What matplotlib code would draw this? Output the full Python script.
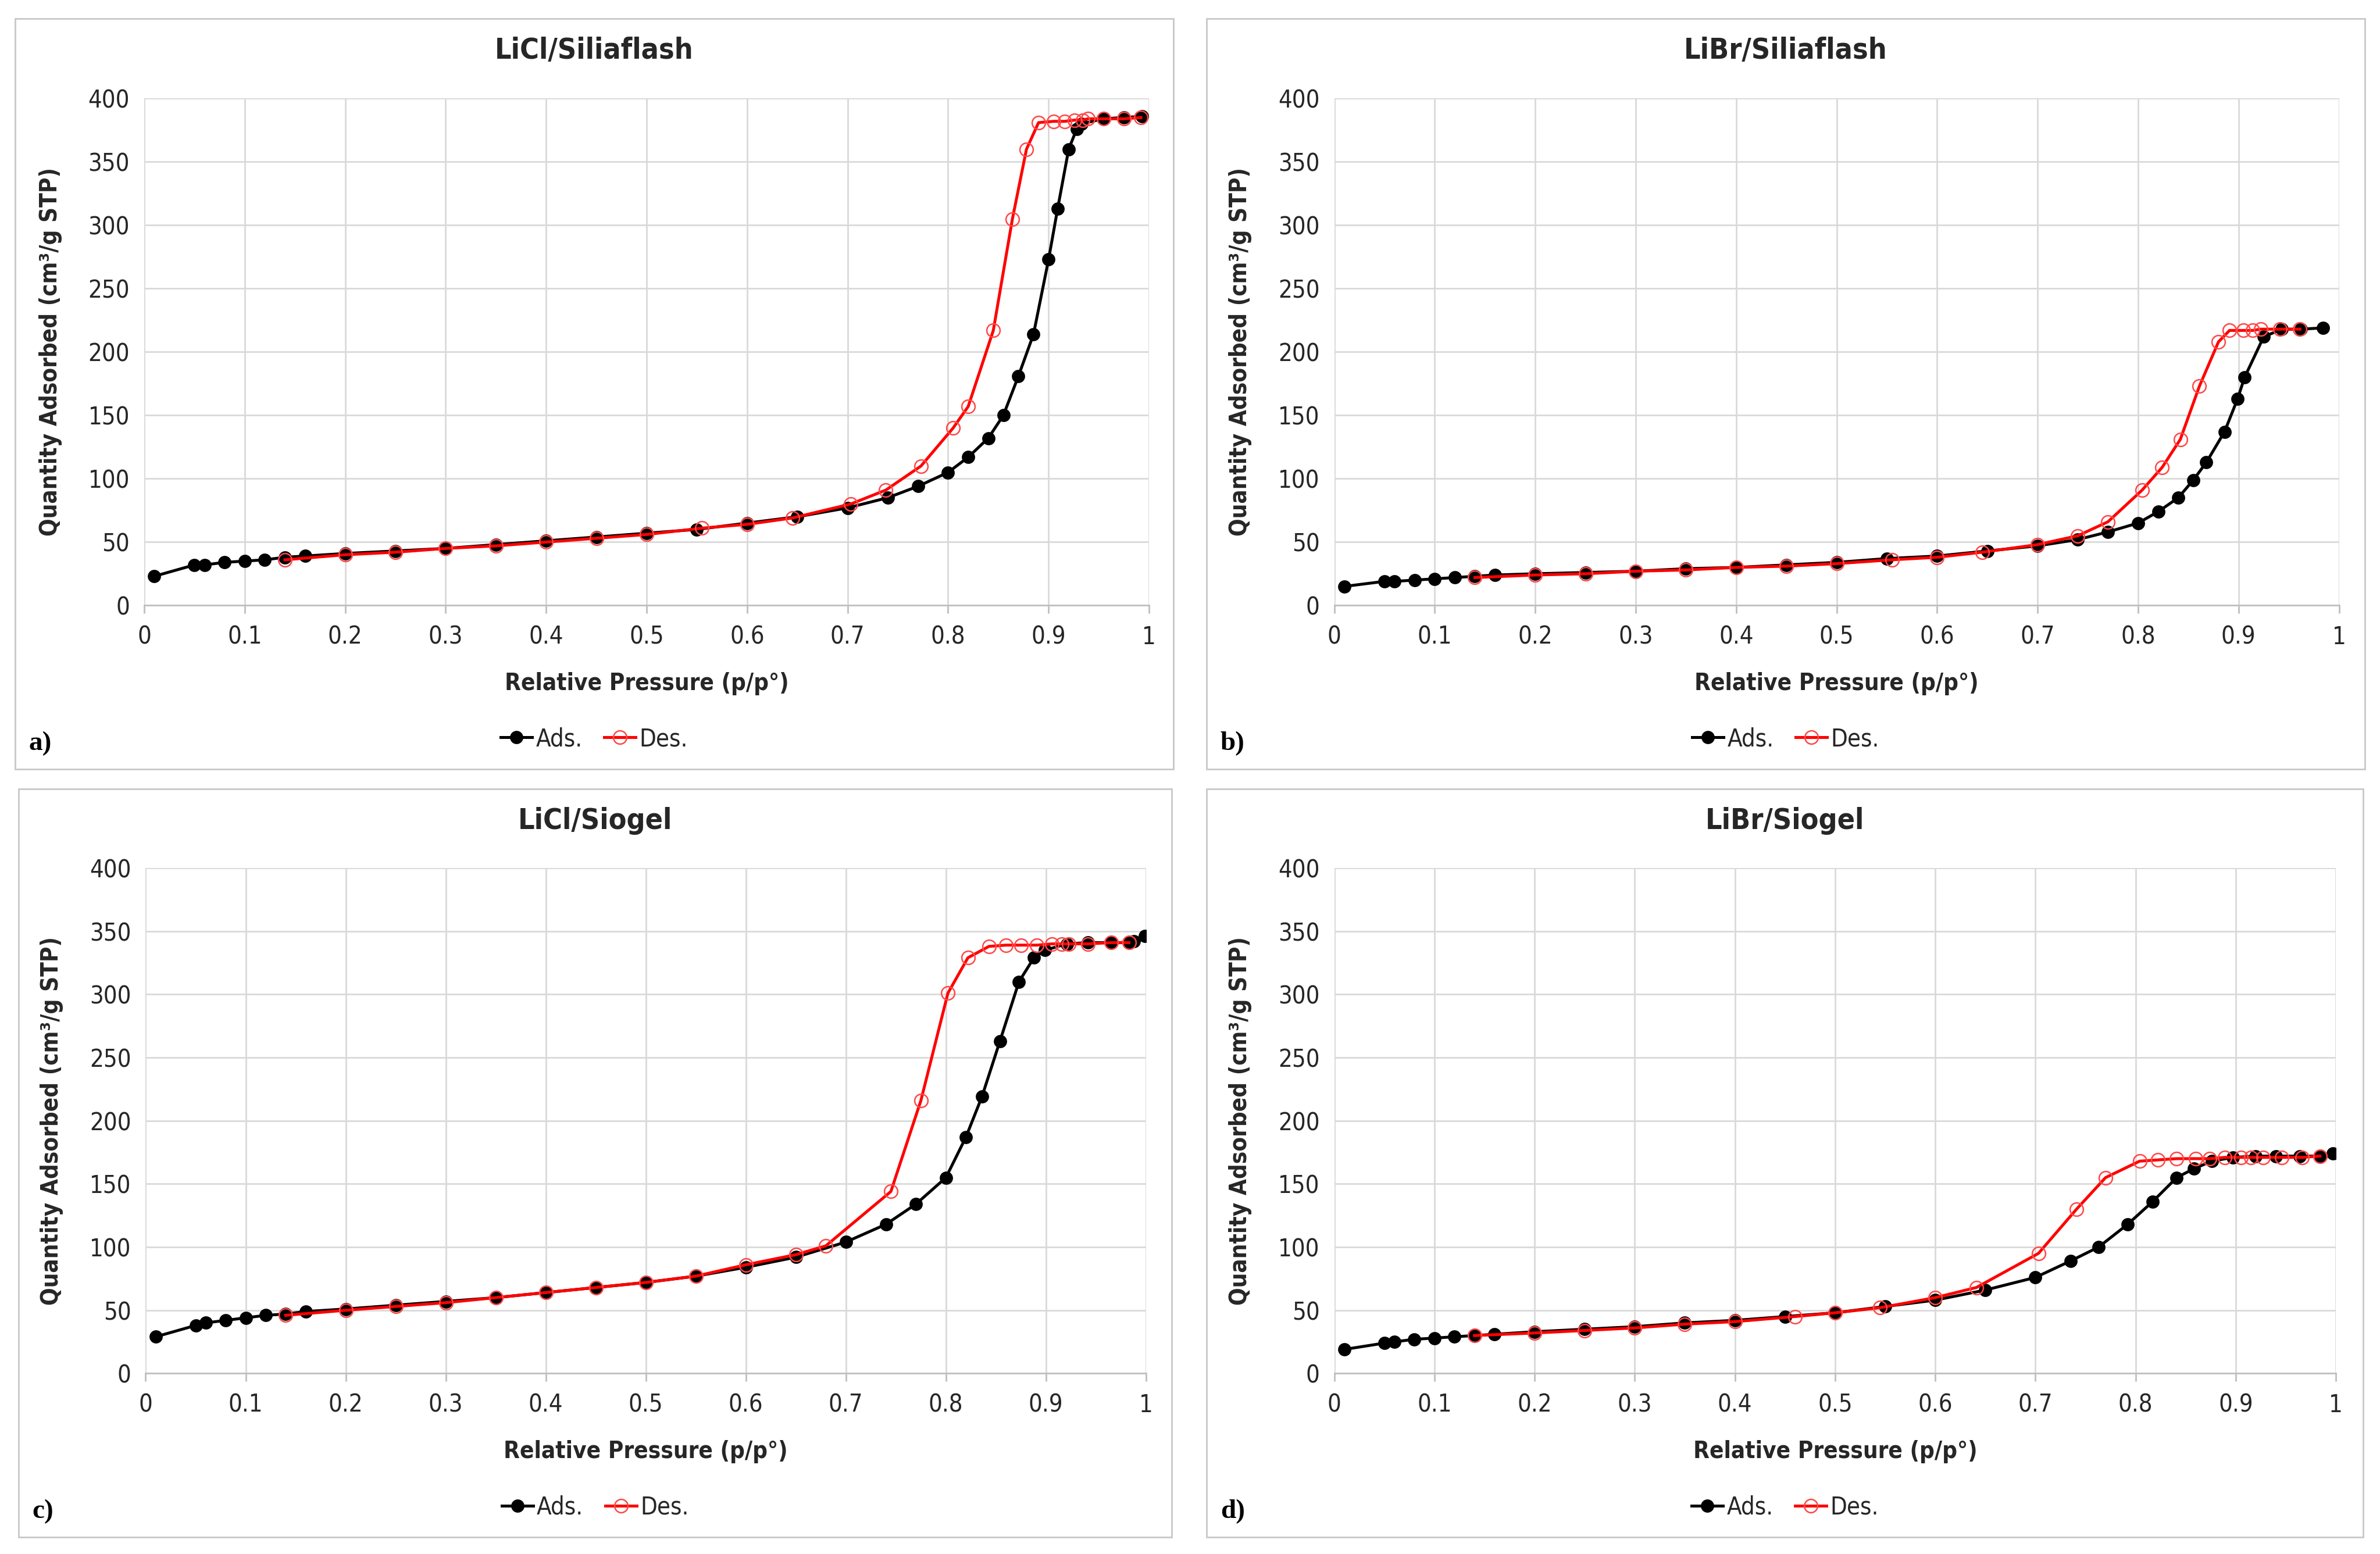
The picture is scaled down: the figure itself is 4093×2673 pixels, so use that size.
import matplotlib
matplotlib.use("Agg")
import matplotlib.pyplot as plt
from matplotlib.patches import Rectangle
from matplotlib.lines import Line2D

plt.rcParams['font.family'] = ['DejaVu Sans']
plt.rcParams['font.stretch'] = 'condensed'

# a) LiCl/Siliaflash
a_ads_x = [0.01, 0.05, 0.06, 0.08, 0.10, 0.12, 0.14, 0.16, 0.20, 0.25, 0.30, 0.35, 0.40, 0.45, 0.50, 0.55,
           0.60, 0.65, 0.70, 0.74, 0.77, 0.80, 0.82, 0.84, 0.855, 0.87, 0.885, 0.90, 0.909, 0.92, 0.928,
           0.933, 0.954, 0.975, 0.993]
a_ads_y = [23, 32, 32, 34, 35, 36, 38, 39, 41, 43, 45, 48, 51, 54, 57, 60,
           65, 70, 77, 85, 94, 105, 117, 132, 150, 181, 214, 273, 313, 360, 376,
           380, 384, 385, 386]
a_des_x = [0.14, 0.20, 0.25, 0.30, 0.35, 0.40, 0.45, 0.50, 0.555, 0.60, 0.645, 0.703, 0.738, 0.773, 0.805,
           0.82, 0.845, 0.864, 0.878, 0.89, 0.905, 0.916, 0.926, 0.934, 0.939, 0.955, 0.975, 0.992]
a_des_y = [36, 40, 42, 45, 47, 50, 53, 56, 61, 64, 69, 80, 91, 110, 140,
           157, 217, 305, 360, 381, 382, 382, 383, 383, 384, 384, 384, 385]

# b) LiBr/Siliaflash
b_ads_x = [0.01, 0.05, 0.06, 0.08, 0.10, 0.12, 0.14, 0.16, 0.20, 0.25, 0.30, 0.35, 0.40, 0.45, 0.50, 0.55,
           0.60, 0.65, 0.70, 0.74, 0.77, 0.80, 0.82, 0.84, 0.855, 0.868, 0.886, 0.899, 0.906, 0.925, 0.943,
           0.962, 0.984]
b_ads_y = [15, 19, 19, 20, 21, 22, 23, 24, 25, 26, 27, 29, 30, 32, 34, 37,
           39, 43, 47, 52, 58, 65, 74, 85, 99, 113, 137, 163, 180, 212, 218,
           218, 219]
b_des_x = [0.14, 0.20, 0.25, 0.30, 0.35, 0.40, 0.45, 0.50, 0.555, 0.60, 0.645, 0.70, 0.74, 0.77, 0.804,
           0.824, 0.842, 0.861, 0.88, 0.891, 0.905, 0.914, 0.922, 0.941, 0.961]
b_des_y = [22, 24, 25, 27, 28, 30, 31, 33, 36, 38, 42, 48, 55, 66, 91,
           109, 131, 173, 208, 217, 217, 217, 218, 218, 218]

# c) LiCl/Siogel
c_ads_x = [0.01, 0.05, 0.06, 0.08, 0.10, 0.12, 0.14, 0.16, 0.20, 0.25, 0.30, 0.35, 0.40, 0.45, 0.50, 0.55,
           0.60, 0.65, 0.70, 0.74, 0.77, 0.80, 0.82, 0.836, 0.854, 0.873, 0.888, 0.899, 0.921, 0.942, 0.965,
           0.983, 0.988, 0.999]
c_ads_y = [29, 38, 40, 42, 44, 46, 47, 49, 51, 54, 57, 60, 64, 68, 72, 77,
           84, 92, 104, 118, 134, 155, 187, 219, 263, 310, 329, 335, 340, 341, 341,
           341, 342, 346]
c_des_x = [0.14, 0.20, 0.25, 0.30, 0.35, 0.40, 0.45, 0.50, 0.55, 0.60, 0.65, 0.68, 0.745, 0.775, 0.802,
           0.822, 0.843, 0.86, 0.875, 0.891, 0.906, 0.916, 0.923, 0.942, 0.965, 0.983]
c_des_y = [46, 50, 53, 56, 60, 64, 68, 72, 77, 86, 94, 101, 144, 216, 301,
           329, 338, 339, 339, 339, 340, 340, 340, 340, 341, 341]

# d) LiBr/Siogel
d_ads_x = [0.01, 0.05, 0.06, 0.08, 0.10, 0.12, 0.14, 0.16, 0.20, 0.25, 0.30, 0.35, 0.40, 0.45, 0.50, 0.55,
           0.60, 0.65, 0.70, 0.735, 0.763, 0.792, 0.817, 0.841, 0.858, 0.876, 0.897, 0.92, 0.94, 0.964,
           0.984, 0.997]
d_ads_y = [19, 24, 25, 27, 28, 29, 30, 31, 33, 35, 37, 40, 42, 45, 48, 53,
           58, 66, 76, 89, 100, 118, 136, 155, 162, 168, 171, 172, 172, 172,
           172, 174]
d_des_x = [0.14, 0.20, 0.25, 0.30, 0.35, 0.40, 0.46, 0.50, 0.545, 0.60, 0.641, 0.703, 0.741, 0.770, 0.804,
           0.822, 0.841, 0.86, 0.874, 0.889, 0.905, 0.915, 0.927, 0.946, 0.966, 0.984]
d_des_y = [30, 32, 34, 36, 39, 41, 45, 48, 52, 60, 68, 95, 130, 155, 168,
           169, 170, 170, 170, 171, 171, 171, 171, 171, 171, 172]

titles = ["LiCl/Siliaflash", "LiBr/Siliaflash", "LiCl/Siogel", "LiBr/Siogel"]
letters = ["a)", "b)", "c)", "d)"]
x_ticks = [0, 0.1, 0.2, 0.3, 0.4, 0.5, 0.6, 0.7, 0.8, 0.9, 1]
x_labels = ["0", "0.1", "0.2", "0.3", "0.4", "0.5", "0.6", "0.7", "0.8", "0.9", "1"]
y_ticks = [0, 50, 100, 150, 200, 250, 300, 350, 400]

series = [(a_ads_x, a_ads_y, a_des_x, a_des_y),
          (b_ads_x, b_ads_y, b_des_x, b_des_y),
          (c_ads_x, c_ads_y, c_des_x, c_des_y),
          (d_ads_x, d_ads_y, d_des_x, d_des_y)]

fig = plt.figure(figsize=(20.465, 13.365), dpi=200)

# panel geometry (figure fractions)
axes_pos = [[0.0606, 0.6104, 0.4222, 0.3262],
            [0.5606, 0.6104, 0.4222, 0.3262],
            [0.0612, 0.1162, 0.4203, 0.3252],
            [0.5606, 0.1162, 0.4209, 0.3252]]
boxes = [[0.0064, 0.505, 0.4866, 0.483],
         [0.5070, 0.505, 0.4866, 0.483],
         [0.0077, 0.0107, 0.4847, 0.4815],
         [0.5070, 0.0107, 0.4860, 0.4815]]

txt = '#262626'
for i in range(4):
    ax = fig.add_axes(axes_pos[i])
    ads_x, ads_y, des_x, des_y = series[i]
    ax.plot(ads_x, ads_y, color='black', lw=1.8, marker='o', ms=7.2,
            mfc='black', mec='black', zorder=3)
    ax.plot(des_x, des_y, color='#ff0000', lw=1.8, marker='o', ms=8.2,
            mfc='none', mec='#ff4848', mew=0.9, zorder=4)
    ax.set_xlim(0, 1)
    ax.set_ylim(0, 400)
    ax.set_xticks(x_ticks)
    ax.set_xticklabels(x_labels)
    ax.set_yticks(y_ticks)
    ax.grid(True, color='#d9d9d9', lw=1.0)
    ax.set_axisbelow(True)
    for s in ['top', 'right', 'left']:
        ax.spines[s].set_visible(False)
    ax.spines['bottom'].set_color('#bfbfbf')
    ax.spines['bottom'].set_linewidth(1.0)
    ax.tick_params(axis='x', colors='#bfbfbf', labelcolor=txt, labelsize=15,
                   length=5, width=1.0, pad=7)
    ax.tick_params(axis='y', length=0, labelcolor=txt, labelsize=15, pad=9)
    ax.set_xlabel("Relative Pressure (p/p°)", fontsize=14.5, fontweight='bold',
                  color=txt, labelpad=14)
    ax.set_ylabel("Quantity Adsorbed (cm³/g STP)", fontsize=14.5, fontweight='bold',
                  color=txt, labelpad=16)

    bx = boxes[i]
    fig.patches.append(Rectangle((bx[0], bx[1]), bx[2], bx[3], transform=fig.transFigure,
                                 fill=False, edgecolor='#c8c8c8', lw=1.0))
    cx = bx[0] + bx[2] / 2
    fig.text(cx, bx[1] + bx[3] - 0.0205, titles[i], ha='center', va='center',
             fontsize=18, fontweight='bold', color=txt)
    fig.text(bx[0] + 0.0058, bx[1] + 0.0165, letters[i], ha='left', va='center',
             fontsize=17, fontweight='bold', family=['Liberation Serif', 'DejaVu Serif'],
             stretch='normal')
    handles = [Line2D([], [], color='black', lw=1.8, marker='o', ms=7.2, mfc='black'),
               Line2D([], [], color='#ff0000', lw=1.8, marker='o', ms=8.2, mfc='none',
                      mec='#ff4848', mew=0.9)]
    fig.legend(handles, ["Ads.", "Des."], loc='center', bbox_to_anchor=(cx, bx[1] + 0.0195),
               ncol=2, frameon=False, fontsize=15, handlelength=1.3, handletextpad=0.15,
               columnspacing=0.9, labelcolor=txt)

fig.savefig("out.png", dpi=200)
